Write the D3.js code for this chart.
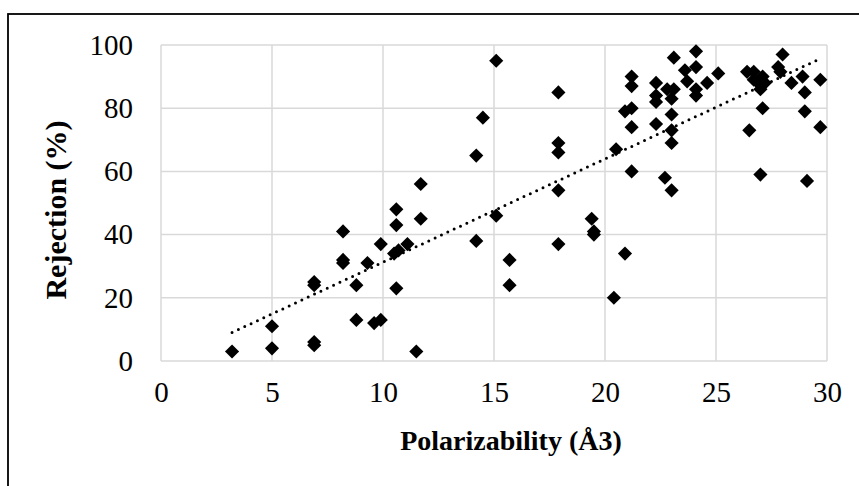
<!DOCTYPE html>
<html>
<head>
<meta charset="utf-8">
<script src="https://cdn.jsdelivr.net/npm/d3@7"></script>
<style>
  body { margin: 0; background: #fff; }
  svg { display: block; }
  .tick text { font-family: "Liberation Serif", "Times New Roman", serif; font-size: 29px; fill: #000; }
  .title { font-family: "Liberation Serif", "Times New Roman", serif; font-weight: bold; fill: #000; }
</style>
</head>
<body>
<div id="chart-container"></div>
<script>
const width = 859;
const height = 486;
const margin = { top: 45, right: 32, bottom: 125, left: 161 };

// data
const polarizability = [
    3.2, 5, 5, 6.9, 6.9, 6.9, 6.9, 8.2, 8.2, 8.2, 8.8, 8.8, 9.3, 9.6, 9.9, 9.9,
    10.6, 10.6, 10.5, 10.7, 10.6, 11.1, 11.7, 11.7, 11.5,
    14.2, 14.5, 15.1, 15.1, 14.2, 15.7, 15.7,
    17.9, 17.9, 17.9, 17.9, 17.9, 19.4, 19.5, 19.5, 20.4, 20.9, 20.5,
    21.2, 21.2, 20.9, 21.2, 21.2, 21.2,
    22.3, 22.3, 22.3, 22.3, 22.7, 23, 23, 23, 23, 23, 22.8, 23.1, 23.1,
    23.6, 23.7, 24.1, 24.1, 24.1, 24.1, 24.6, 25.1,
    26.4, 26.7, 27.1, 26.9, 27.2, 27, 26.7, 26.5, 27.1, 27,
    28, 27.8, 27.9, 28.4, 28.9, 29, 29, 29.1, 29.7, 29.7
];
const rejection = [
    3, 4, 11, 5, 6, 24, 25, 41, 32, 31, 24, 13, 31, 12, 13, 37,
    48, 43, 34, 35, 23, 37, 56, 45, 3,
    65, 77, 95, 46, 38, 32, 24,
    85, 69, 66, 54, 37, 45, 41, 40, 20, 34, 67,
    60, 74, 79, 80, 90, 87,
    88, 84, 82, 75, 58, 54, 69, 73, 78, 83, 86, 96, 86,
    92, 88.5, 93, 98, 86, 84, 88, 91,
    91.5, 91.5, 90, 88, 88, 86, 89, 73, 80, 59,
    97, 93, 91.5, 88, 90, 85, 79, 57, 89, 74
];
const xTicks = [0, 5, 10, 15, 20, 25, 30];
const yTicks = [0, 20, 40, 60, 80, 100];

const data = polarizability.map((x, i) => ({ x: x, y: rejection[i] }));

const svg = d3.select("div#chart-container").append("svg")
    .attr("width", width)
    .attr("height", height);

// chart frame (only top/left fall inside the picture)
svg.append("rect")
    .attr("x", 8).attr("y", 14)
    .attr("width", 900).attr("height", 600)
    .attr("fill", "none")
    .attr("stroke", "#000")
    .attr("stroke-width", 1.8);

const innerW = width - margin.left - margin.right;
const innerH = height - margin.top - margin.bottom;

const g = svg.append("g")
    .attr("transform", "translate(" + margin.left + "," + margin.top + ")");

const xScale = d3.scaleLinear().domain([0, 30]).range([0, innerW]);
const yScale = d3.scaleLinear().domain([0, 100]).range([innerH, 0]);

// gridlines
g.append("g")
    .selectAll("line")
    .data(yTicks)
    .enter()
    .append("line")
    .attr("x1", 0).attr("x2", innerW)
    .attr("y1", d => yScale(d)).attr("y2", d => yScale(d))
    .attr("stroke", "#d9d9d9")
    .attr("stroke-width", 1.5);

g.append("g")
    .selectAll("line")
    .data(xTicks)
    .enter()
    .append("line")
    .attr("y1", 0).attr("y2", innerH)
    .attr("x1", d => xScale(d)).attr("x2", d => xScale(d))
    .attr("stroke", "#d9d9d9")
    .attr("stroke-width", 1.5);

const xaxis = d3.axisBottom(xScale).tickValues(xTicks).tickSize(0).tickPadding(20);
const yaxis = d3.axisLeft(yScale).tickValues(yTicks).tickSize(0).tickPadding(28);

g.append("g")
    .attr("class", "axis")
    .attr("transform", "translate(0," + innerH + ")")
    .call(xaxis)
    .call(a => a.select(".domain").remove());

g.append("g")
    .attr("class", "axis")
    .call(yaxis)
    .call(a => a.select(".domain").remove());

// linear trendline (least squares)
const mx = d3.mean(data, d => d.x);
const my = d3.mean(data, d => d.y);
const slope = d3.sum(data, d => (d.x - mx) * (d.y - my)) / d3.sum(data, d => (d.x - mx) * (d.x - mx));
const intercept = my - slope * mx;
const ext = d3.extent(data, d => d.x);
const trend = ext.map(x => ({ x: x, y: intercept + slope * x }));

const line = d3.line()
    .x(d => xScale(d.x))
    .y(d => yScale(d.y));

// points
g.append("g")
    .selectAll("path")
    .data(data)
    .enter()
    .append("path")
    .attr("d", d3.symbol(d3.symbolSquare, 100))
    .attr("transform", d => "translate(" + xScale(d.x) + "," + yScale(d.y) + ") rotate(45)")
    .attr("fill", "#000");

g.append("path")
    .attr("d", line(trend))
    .attr("fill", "none")
    .attr("stroke", "#000")
    .attr("stroke-width", 3)
    .attr("stroke-linecap", "round")
    .attr("stroke-dasharray", "0 7");

// axis titles
svg.append("text")
    .attr("class", "title")
    .attr("x", 511)
    .attr("y", 450)
    .attr("text-anchor", "middle")
    .style("font-size", "28px")
    .text("Polarizability (Å3)");

svg.append("text")
    .attr("class", "title")
    .attr("transform", "translate(66,210) rotate(-90)")
    .attr("text-anchor", "middle")
    .style("font-size", "30px")
    .text("Rejection (%)");
</script>
</body>
</html>
